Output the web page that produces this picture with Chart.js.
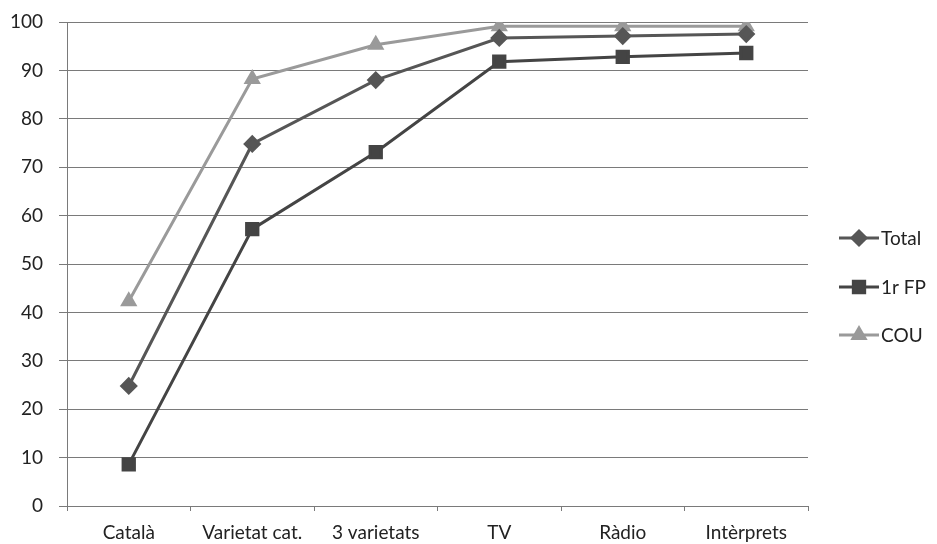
<!DOCTYPE html>
<html>
<head>
<meta charset="utf-8">
<script src="https://cdn.jsdelivr.net/npm/chart.js"></script>
<style>
  html, body { margin: 0; padding: 0; background: #fff; }
  #wrap { width: 937px; height: 544px; }
</style>
</head>
<body>
<div id="wrap"><canvas id="myChart" width="937" height="544"></canvas></div>
<script>
// dades
const categories = ['Català', 'Varietat cat.', '3 varietats', 'TV', 'Ràdio', 'Intèrprets'];
const total = [24.8, 74.8, 88, 96.7, 97.1, 97.5];
const fp1 = [8.6, 57.2, 73.1, 91.8, 92.8, 93.6];
const cou = [42.3, 88.2, 95.3, 99.1, 99.1, 99.1];
const seriesNames = ['Total', '1r FP', 'COU'];

const colors = ['#565656', '#444444', '#9a9a9a'];
const shapes = ['rectRot', 'rect', 'triangle'];
const radii = [7, 8, 7];

const FONT = 'Lato, "Open Sans", sans-serif';

// llegenda dibuixada a mà (línia + marcador)
const legendPlugin = {
  id: 'sideLegend',
  afterDraw(chart) {
    const c = chart.ctx;
    const x0 = 839, x1 = 879;
    const ys = [238, 287, 335];
    chart.data.datasets.forEach((ds, i) => {
      const y = ys[i];
      c.save();
      c.strokeStyle = ds.borderColor;
      c.lineWidth = 3;
      c.beginPath();
      c.moveTo(x0, y);
      c.lineTo(x1, y);
      c.stroke();
      Chart.helpers.drawPoint(c, {
        pointStyle: ds.pointStyle,
        radius: ds.pointRadius,
        rotation: 0,
        borderWidth: 1
      }, (x0 + x1) / 2, y);
      c.fillStyle = ds.borderColor;
      c.fill();
      c.fillStyle = '#222';
      c.font = '19px ' + FONT;
      c.textBaseline = 'middle';
      c.fillText(ds.label, x1 + 2, y + 1);
      c.restore();
    });
  }
};

const ctx = document.getElementById('myChart').getContext('2d');
const myChart = new Chart(ctx, {
  type: 'line',
  data: {
    labels: categories,
    datasets: [total, fp1, cou].map((d, i) => ({
      label: seriesNames[i],
      data: d,
      borderColor: colors[i],
      backgroundColor: colors[i],
      pointBackgroundColor: colors[i],
      pointBorderColor: colors[i],
      pointStyle: shapes[i],
      pointRadius: radii[i],
      pointHoverRadius: radii[i],
      borderWidth: 3,
      tension: 0
    }))
  },
  options: {
    responsive: false,
    animation: false,
    layout: { padding: { left: 0, right: 129, top: 22, bottom: 0 } },
    plugins: {
      legend: { display: false },
      tooltip: { enabled: false }
    },
    scales: {
      x: {
        offset: true,
        afterFit(scale) { scale.height = 38; },
        grid: {
          offset: true,
          drawOnChartArea: false,
          drawTicks: true,
          tickLength: 5,
          color: '#7a7a7a'
        },
        border: { color: '#7a7a7a', width: 1 },
        ticks: {
          color: '#222',
          font: { family: FONT, size: 19 },
          padding: 10,
          maxRotation: 0,
          autoSkip: false
        }
      },
      y: {
        min: 0,
        max: 100,
        afterFit(scale) { scale.width = 67; scale.paddingTop = 0; scale.paddingBottom = 0; },
        grid: {
          color: '#7a7a7a',
          lineWidth: 1,
          tickLength: 8
        },
        border: { color: '#7a7a7a', width: 1 },
        ticks: {
          stepSize: 10,
          color: '#222',
          font: { family: FONT, size: 19 },
          padding: 16
        }
      }
    }
  },
  plugins: [legendPlugin]
});
</script>
</body>
</html>
